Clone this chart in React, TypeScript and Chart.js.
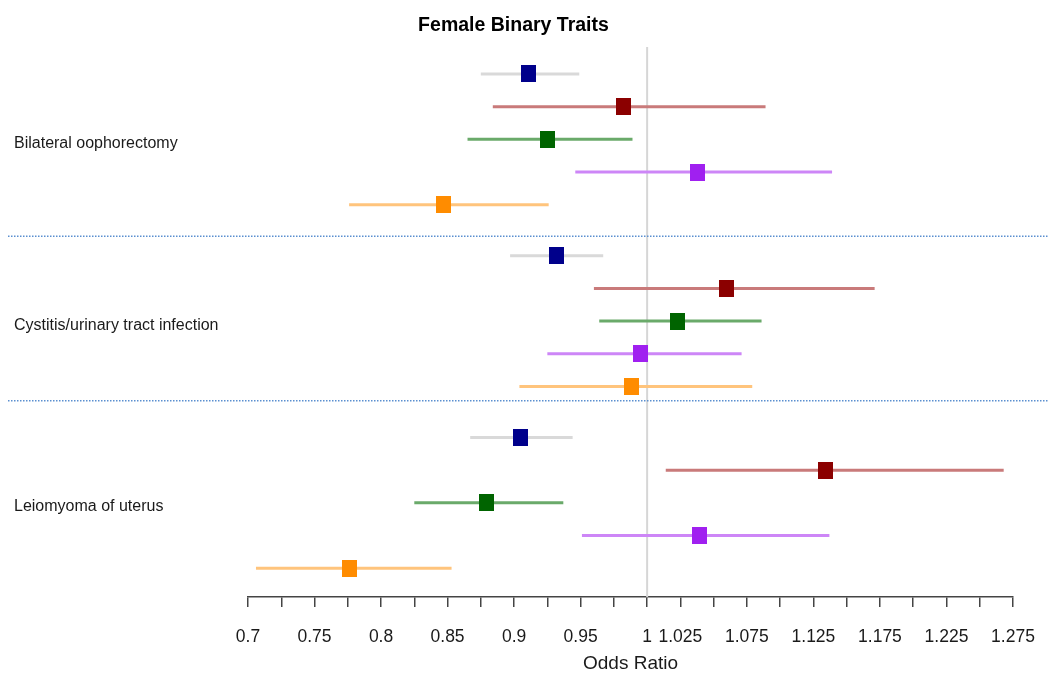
import React, { useEffect, useRef } from 'react';
import { Chart, registerables } from 'chart.js';

Chart.register(...registerables);

// ---------- data ----------
const CATEGORIES = ['Bilateral oophorectomy', 'Cystitis/urinary tract infection', 'Leiomyoma of uterus'];

const SERIES_NAMES = ['Navy', 'Dark red', 'Green', 'Purple', 'Orange'];

// Odds ratios and 95% CI per category (order of CATEGORIES)
const OR_NAVY = [0.911, 0.932, 0.905];
const LO_NAVY = [0.875, 0.897, 0.867];
const HI_NAVY = [0.949, 0.967, 0.944];

const OR_RED = [0.982, 1.06, 1.134];
const LO_RED = [0.884, 0.96, 1.014];
const HI_RED = [1.089, 1.171, 1.268];

const OR_GREEN = [0.925, 1.023, 0.879];
const LO_GREEN = [0.865, 0.964, 0.825];
const HI_GREEN = [0.989, 1.086, 0.937];

const OR_PURPLE = [1.038, 0.995, 1.039];
const LO_PURPLE = [0.946, 0.925, 0.951];
const HI_PURPLE = [1.139, 1.071, 1.137];

const OR_ORANGE = [0.847, 0.988, 0.776];
const LO_ORANGE = [0.776, 0.904, 0.706];
const HI_ORANGE = [0.926, 1.079, 0.853];

const TICK_LABELS = [0.7, 0.75, 0.8, 0.85, 0.9, 0.95, 1, 1.025, 1.075, 1.125, 1.175, 1.225, 1.275];
const SEPARATORS = [4.96, 10.0];
const REFERENCE_OR = 1;

// ---------- styles / layout ----------
const COLORS = ['#00008B', '#8B0000', '#006400', '#A020F0', '#FF8C00'];
const CI_COLORS = ['#d9d9d9', '#c97a7a', '#6aaa6a', '#cd86f7', '#ffc47c'];
const GROUP_STRIDE = 5.56;
const FONT = "'Liberation Sans', Arial, sans-serif";

const SERIES = [
  { or: OR_NAVY, lo: LO_NAVY, hi: HI_NAVY },
  { or: OR_RED, lo: LO_RED, hi: HI_RED },
  { or: OR_GREEN, lo: LO_GREEN, hi: HI_GREEN },
  { or: OR_PURPLE, lo: LO_PURPLE, hi: HI_PURPLE },
  { or: OR_ORANGE, lo: LO_ORANGE, hi: HI_ORANGE },
];

export default function App() {
  const ref = useRef<HTMLCanvasElement>(null);

  useEffect(() => {
    const canvas = ref.current;
    if (!canvas) return;

    const makeSquare = (color: string) => {
      const c = document.createElement('canvas');
      c.width = 15;
      c.height = 17;
      const g = c.getContext('2d')!;
      g.fillStyle = color;
      g.fillRect(0, 0, 15, 17);
      return c;
    };

    const rowPos = (gi: number, si: number) => gi * GROUP_STRIDE + si;
    const groupCenters = CATEGORIES.map((_, gi) => gi * GROUP_STRIDE + (SERIES.length - 1) / 2);

    const datasets: any[] = [];
    SERIES.forEach((s, si) => {
      CATEGORIES.forEach((_, gi) => {
        datasets.push({
          label: SERIES_NAMES[si] + ' CI ' + (gi + 1),
          data: [
            { x: s.lo[gi], y: rowPos(gi, si) },
            { x: s.hi[gi], y: rowPos(gi, si) },
          ],
          showLine: true,
          borderColor: CI_COLORS[si],
          borderWidth: 3,
          pointRadius: 0,
          order: 2,
        });
      });
    });
    SERIES.forEach((s, si) => {
      datasets.push({
        label: SERIES_NAMES[si],
        data: CATEGORIES.map((_, gi) => ({ x: s.or[gi], y: rowPos(gi, si) })),
        showLine: false,
        pointStyle: makeSquare(COLORS[si]),
        pointRadius: 9,
        order: 1,
      });
    });

    const refPlugin = {
      id: 'refLines',
      beforeDatasetsDraw(chart: any) {
        const { ctx, chartArea, scales } = chart;
        ctx.save();
        const x1 = scales.x.getPixelForValue(REFERENCE_OR);
        ctx.strokeStyle = '#d6d6d6';
        ctx.lineWidth = 2;
        ctx.beginPath();
        ctx.moveTo(x1, chartArea.top);
        ctx.lineTo(x1, chartArea.bottom);
        ctx.stroke();
        ctx.strokeStyle = '#5b8fd0';
        ctx.lineWidth = 1.5;
        ctx.setLineDash([1.5, 1.5]);
        SEPARATORS.forEach((v) => {
          const y = scales.y.getPixelForValue(v);
          ctx.beginPath();
          ctx.moveTo(8, y);
          ctx.lineTo(chart.width, y);
          ctx.stroke();
        });
        ctx.restore();
      },
    };

    const chart = new Chart(canvas, {
      type: 'scatter',
      data: { datasets },
      options: {
        animation: false,
        responsive: false,
        devicePixelRatio: 1,
        layout: { padding: { left: 14, right: 35, top: 0, bottom: 0 } },
        plugins: {
          legend: { display: false },
          tooltip: { enabled: false },
          title: {
            display: true,
            text: 'Female Binary Traits',
            color: '#000',
            font: { family: FONT, size: 19.5, weight: 'bold' },
            padding: { top: 14, bottom: 9.6 },
          },
        },
        scales: {
          x: {
            type: 'linear',
            min: 0.7,
            max: 1.275,
            offset: false,
            afterFit: (s: any) => {
              s.height = 80;
              s.paddingLeft = 10;
              s.paddingRight = 10;
            },
            ticks: {
              stepSize: 0.025,
              autoSkip: false,
              maxRotation: 0,
              minRotation: 0,
              padding: 20,
              color: '#1a1a1a',
              font: { family: FONT, size: 17.5 },
              callback: (v: any) => {
                const n = Number(v);
                const hit = TICK_LABELS.find((t) => Math.abs(t - n) < 1e-6);
                return hit === undefined ? '' : String(hit);
              },
            },
            grid: {
              drawOnChartArea: false,
              drawTicks: true,
              tickLength: 10,
              color: '#444',
              lineWidth: 1.5,
            },
            border: { display: true, color: '#444', width: 1.5 },
            title: {
              display: true,
              text: 'Odds Ratio',
              color: '#1a1a1a',
              font: { family: FONT, size: 19 },
              padding: { top: 0, bottom: 2 },
            },
          },
          y: {
            type: 'linear',
            reverse: true,
            offset: false,
            min: -0.826,
            max: 16.0,
            clip: false,
            afterBuildTicks: (s: any) => {
              s.ticks = groupCenters.map((v) => ({ value: v }));
            },
            afterFit: (s: any) => {
              s.width = 234;
            },
            ticks: {
              crossAlign: 'far',
              labelOffset: 4,
              color: '#1a1a1a',
              font: { family: FONT, size: 16 },
              callback: (_v: any, i: number) => CATEGORIES[i],
            },
            grid: { display: false },
            border: { display: false },
          },
        },
      } as any,
      plugins: [refPlugin],
    });

    return () => chart.destroy();
  }, []);

  return (
    <div style={{ position: 'absolute', left: 0, top: 0, width: 1048, height: 677, background: '#fff' }}>
      <canvas ref={ref} width={1048} height={677} />
    </div>
  );
}
